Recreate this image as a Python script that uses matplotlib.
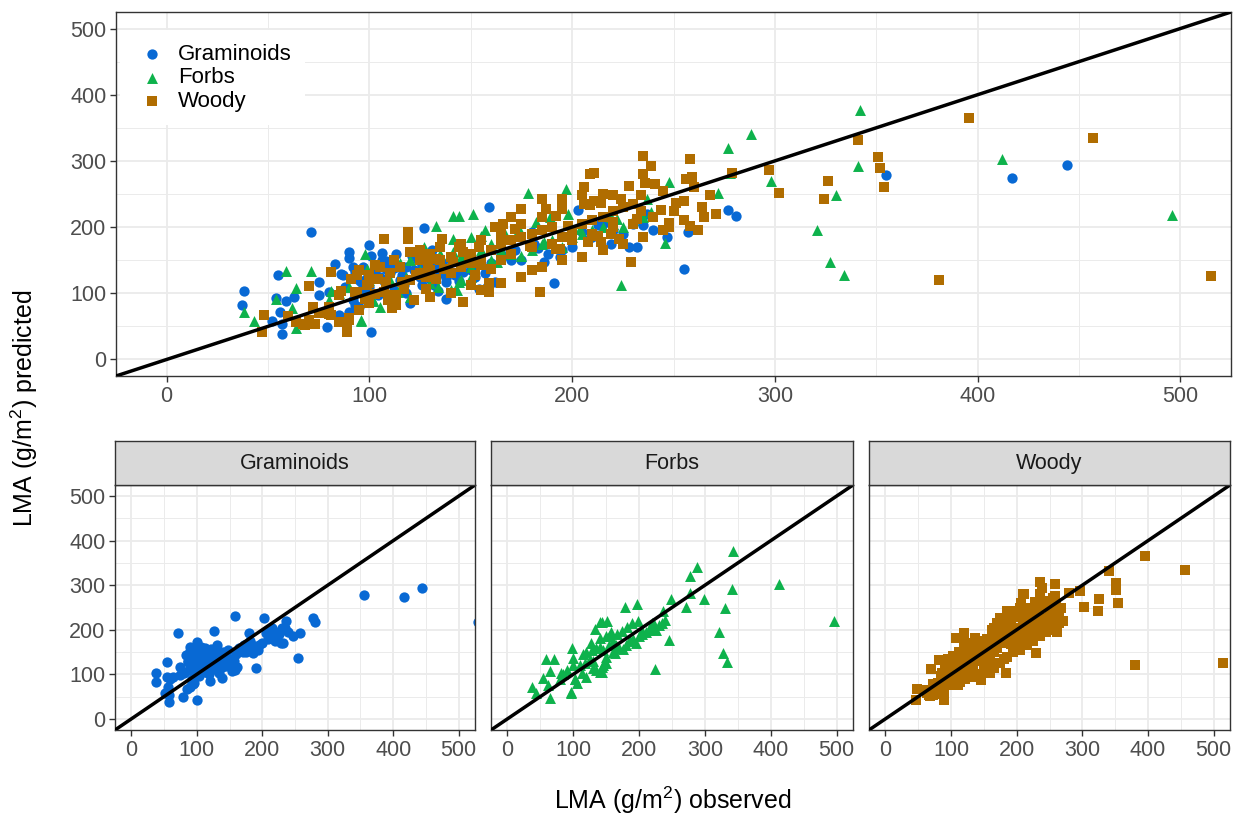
import matplotlib
matplotlib.use('Agg')
import matplotlib.pyplot as plt

plt.rcParams['font.family'] = ['Liberation Sans', 'DejaVu Sans']
plt.rcParams['mathtext.fontset'] = 'custom'
plt.rcParams['mathtext.rm'] = 'Liberation Sans'
plt.rcParams['mathtext.default'] = 'rm'

# ---- data: observed vs predicted LMA (g/m2) ----
gram_obs = [38, 37, 71, 55, 57, 90, 90, 83, 75, 63, 59, 54, 56, 52, 57, 79, 86, 93, 100, 106,
            113, 108, 110, 101, 96, 87, 94, 90, 85, 75, 80, 159, 127, 101, 106, 121, 131, 92, 120, 138,
            138, 132, 126, 138, 154, 158, 162, 157, 169, 180, 181, 186, 194, 200, 203, 208, 213, 191, 93, 95,
            92, 219, 228, 232, 235, 247, 257, 255, 277, 281, 355, 417, 444, 529,
            95, 100, 105, 110, 115, 118, 122, 128, 132, 140, 145, 150, 112, 104, 98, 118, 125, 135, 142, 148,
            165, 172, 175, 188, 195, 205, 210, 220, 215, 230, 237, 225, 240,
            88, 97, 103, 107, 112, 116, 124, 130, 136, 144, 152, 160, 99, 108, 117, 126, 134, 146, 170, 183]
gram_pred = [104, 83, 193, 128, 38, 162, 153, 144, 117, 94, 89, 93, 72, 58, 54, 49, 129, 132, 173, 161,
             159, 149, 147, 42, 117, 127, 79, 72, 67, 98, 102, 230, 198, 157, 150, 157, 165, 140, 85, 123,
             117, 112, 112, 92, 107, 110, 117, 130, 157, 192, 175, 147, 155, 170, 226, 180, 203, 115, 82, 80,
             90, 175, 170, 170, 203, 185, 192, 137, 226, 217, 279, 274, 294, 217,
             120, 110, 125, 130, 120, 140, 135, 145, 138, 150, 140, 135, 105, 97, 105, 100, 125, 130, 128, 155,
             160, 165, 150, 160, 165, 192, 185, 195, 205, 205, 220, 190, 195,
             110, 140, 132, 118, 138, 128, 150, 122, 145, 118, 125, 145, 123, 136, 112, 142, 104, 132, 150, 168]

forb_obs = [38, 43, 59, 71, 64, 54, 62, 81, 64, 96, 99, 102,
            141, 144, 151, 133, 141, 150, 157, 155, 127, 98, 115, 141, 144, 143, 163, 178, 167, 174,
            182, 189, 197, 198, 204, 186, 175, 102, 96, 114, 134,
            342, 288, 277, 248, 272, 298, 341, 330, 321, 327, 334, 246, 224, 239, 237, 222, 219, 278, 412, 496,
            110, 118, 125, 130, 145, 150, 160, 165, 170, 180, 185, 190, 195, 200, 205, 210, 215, 220, 225, 230,
            235, 160, 155, 120, 128, 135, 145, 100, 90, 85, 80, 105, 120, 130, 150, 140]
forb_pred = [71, 58, 134, 134, 108, 92, 77, 104, 47, 58, 137, 89,
             217, 217, 220, 201, 182, 185, 196, 187, 170, 160, 145, 162, 117, 105, 147, 252, 190, 197,
             207, 215, 257, 220, 197, 177, 157, 90, 60, 102, 110,
             377, 341, 320, 268, 251, 270, 292, 248, 196, 148, 128, 176, 112, 223, 242, 212, 215, 282, 303, 219,
             120, 125, 135, 130, 120, 140, 150, 165, 160, 165, 175, 180, 170, 185, 190, 195, 200, 205, 200, 210,
             215, 175, 165, 150, 155, 160, 155, 120, 110, 100, 90, 80, 95, 115, 125, 105]

wood_obs = [48, 47, 70, 81, 91, 72, 80, 67, 73, 85, 89, 87, 90, 94,
            107, 64, 68, 86, 89, 85, 103, 111, 113, 108, 103, 81,
            119, 119, 136, 120, 130, 133, 144, 146, 154, 141, 149, 155, 160, 162, 166, 172, 175, 185,
            187, 192, 195, 206, 209, 206, 211, 198, 179, 180, 184, 192, 194, 208, 146, 159, 150, 159,
            137, 123, 125, 116, 117, 113, 111, 107, 104, 99, 100, 98, 94, 93, 128, 133, 152, 155,
            129, 128, 90, 109,
            235, 239, 258, 211, 235, 236, 241, 256, 259, 279, 297, 302, 326, 324, 341, 351, 352, 354,
            268, 264, 271, 251, 244, 234, 220, 224, 214, 209, 234, 232, 248, 248, 258, 220, 219, 223,
            214, 213, 229, 396, 457, 381, 515,
            100, 110, 115, 125, 130, 135, 140, 150, 160, 165, 170, 175, 180, 185, 190, 195, 200, 205, 210, 215,
            220, 225, 230, 120, 130, 140, 145, 150, 165, 170, 180, 190, 200, 210, 220, 230, 240, 250, 255, 245,
            260, 228, 215, 205, 195, 185, 175, 170, 165, 155, 145, 135, 125, 112, 105, 95, 80, 75, 70, 60,
            100, 95, 122, 130, 140, 155, 165, 175, 185, 195, 205, 215, 225, 235, 245, 255, 265, 262]
wood_pred = [67, 42, 111, 132, 122, 79, 68, 54, 53, 97, 42, 56, 59, 102,
             182, 57, 52, 104, 57, 57, 99, 97, 82, 117, 142, 67,
             192, 182, 182, 162, 152, 152, 170, 162, 170, 147, 152, 147, 137, 200, 205, 197, 227, 242,
             227, 217, 242, 260, 280, 235, 240, 202, 172, 135, 102, 167, 167, 177, 87, 102, 112, 115,
             137, 127, 130, 117, 107, 97, 77, 102, 122, 112, 127, 92, 127, 102, 107, 122, 127, 142,
             142, 125, 62, 90,
             308, 293, 303, 281, 280, 267, 265, 272, 276, 282, 287, 252, 269, 242, 331, 306, 290, 260,
             248, 230, 220, 237, 226, 248, 248, 242, 237, 233, 225, 212, 206, 200, 201, 207, 190, 182,
             177, 187, 148, 365, 335, 120, 126,
             115, 130, 140, 150, 160, 150, 155, 160, 165, 175, 180, 185, 190, 195, 200, 185, 195, 205, 210, 215,
             225, 230, 235, 120, 135, 130, 140, 145, 150, 160, 170, 175, 180, 190, 200, 205, 215, 225, 240, 255,
             260, 262, 250, 248, 228, 215, 205, 215, 190, 180, 175, 170, 165, 150, 140, 135, 80, 70, 60, 65,
             85, 75, 90, 95, 100, 105, 115, 125, 140, 150, 155, 165, 175, 185, 195, 210, 215, 195]

groups = ['Graminoids', 'Forbs', 'Woody']
colors = ['#0869d4', '#0eb24c', '#b06d00']
markers = ['o', '^', 's']
sizes = [55, 62, 48]
obs = [gram_obs, forb_obs, wood_obs]
pred = [gram_pred, forb_pred, wood_pred]

lim = (-25, 525)
W, H = 1243, 821


def style(ax, show_y=True):
    ax.set_xlim(lim)
    ax.set_ylim(lim)
    ax.set_xticks(range(0, 501, 100))
    ax.set_yticks(range(0, 501, 100))
    ax.set_xticks(range(50, 501, 100), minor=True)
    ax.set_yticks(range(50, 501, 100), minor=True)
    ax.grid(which='major', color='#ebebeb', lw=1.3)
    ax.grid(which='minor', color='#ebebeb', lw=0.7)
    ax.set_axisbelow(True)
    for s in ax.spines.values():
        s.set_color('#333333')
        s.set_linewidth(1.0)
    ax.tick_params(which='major', length=4, width=1, color='#333333',
                   labelcolor='#4d4d4d', labelsize=15.5, pad=3)
    ax.tick_params(which='minor', length=0)
    if not show_y:
        ax.tick_params(axis='y', which='both', left=False, labelleft=False)


def box(x0, y0, x1, y1):
    return [x0 / W, 1 - y1 / H, (x1 - x0) / W, (y1 - y0) / H]


fig = plt.figure(figsize=(12.43, 8.21), dpi=100)

# top panel with all groups
ax = fig.add_axes(box(116, 12, 1231, 376))
style(ax)
for g, c, m, s, x, y in zip(groups, colors, markers, sizes, obs, pred):
    ax.scatter(x, y, c=c, marker=m, s=s, linewidths=0, label=g, zorder=2)
ax.axline((0, 0), slope=1, color='black', lw=2.5, zorder=3)
leg = ax.legend(loc='upper left', bbox_to_anchor=(-0.006, 0.98), fontsize=16, frameon=True,
                facecolor='white', edgecolor='none', framealpha=1, handletextpad=0.4,
                labelspacing=0.12, borderpad=0.6, handlelength=1.6, markerscale=1.0)
leg.set_zorder(5)

# facets
panels = [(115, 475), (491, 853), (869, 1230)]
for i, (g, c, m, s, x, y) in enumerate(zip(groups, colors, markers, sizes, obs, pred)):
    x0, x1 = panels[i]
    a = fig.add_axes(box(x0, 485, x1, 730))
    style(a, show_y=(i == 0))
    a.scatter(x, y, c=c, marker=m, s=s, linewidths=0, zorder=2)
    a.axline((0, 0), slope=1, color='black', lw=2.5, zorder=3)
    st = fig.add_axes(box(x0, 441, x1, 485))
    st.set_facecolor('#d9d9d9')
    st.set_xticks([])
    st.set_yticks([])
    for sp in st.spines.values():
        sp.set_color('#333333')
        sp.set_linewidth(1.0)
    st.text(0.5, 0.5, g, ha='center', va='center', fontsize=15.5, color='#1a1a1a',
            transform=st.transAxes)

fig.text(24 / W, 1 - 408 / H, 'LMA (g/m$^2$) predicted', rotation=90, ha='center', va='center',
         fontsize=18, color='black')
fig.text(673 / W, 1 - 800 / H, 'LMA (g/m$^2$) observed', ha='center', va='center',
         fontsize=18, color='black')

fig.savefig('out.png', dpi=100)
